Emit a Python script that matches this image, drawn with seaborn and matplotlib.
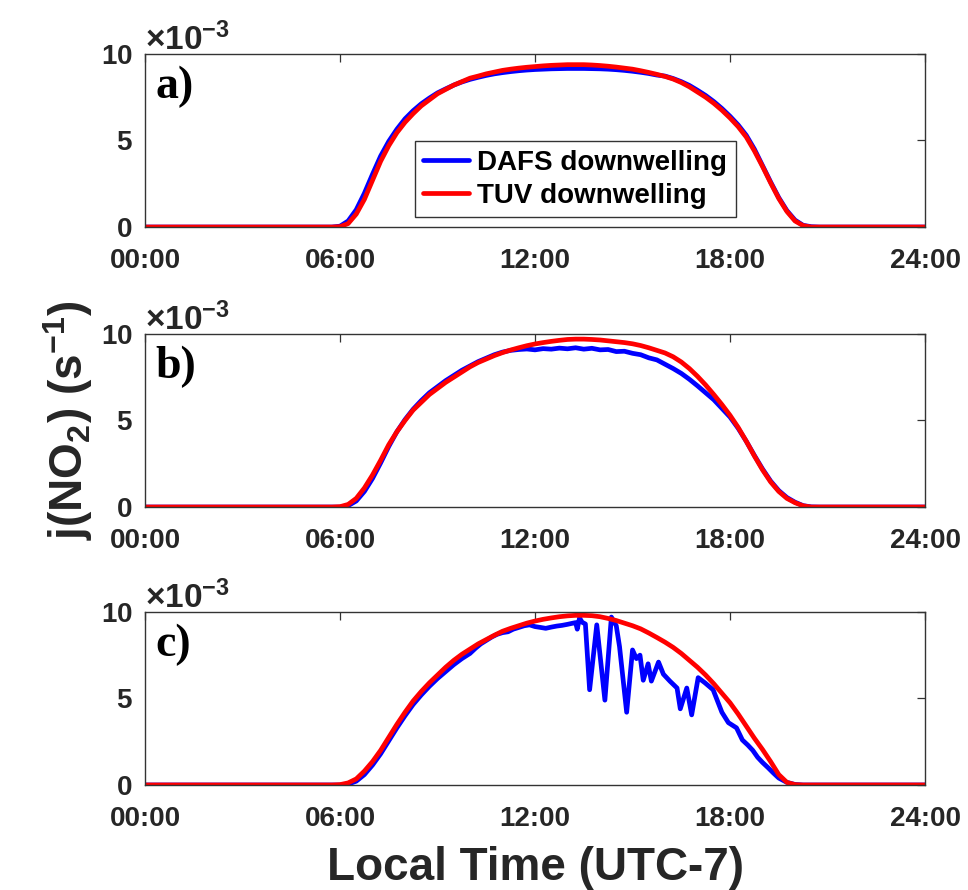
import numpy as np
import pandas as pd
import matplotlib
matplotlib.use("Agg")
import matplotlib.pyplot as plt
import seaborn as sns
from matplotlib.ticker import ScalarFormatter, FixedLocator, FixedFormatter

# ---------------------------------------------------------------------------
# Photolysis frequency j(NO2), in units of 1e-3 s^-1, versus local time (h).
# Smooth series share a 15-minute grid from 05:30 to 21:00 plus midnight ends.
# ---------------------------------------------------------------------------
grid_hours = [0.0] + list(np.arange(5.5, 21.01, 0.25)) + [24.0]

tuv_a = [0.0,
         0.0, 0.0,
         0.02, 0.2, 0.75, 1.6,
         2.7, 3.8, 4.7, 5.45,
         6.05, 6.55, 7.0, 7.35,
         7.7, 7.95, 8.2, 8.4,
         8.6, 8.72, 8.85, 8.95,
         9.05, 9.12, 9.18, 9.23,
         9.27, 9.31, 9.34, 9.36,
         9.38, 9.38, 9.38, 9.36,
         9.33, 9.29, 9.24, 9.18,
         9.12, 9.03, 8.93, 8.82,
         8.7, 8.55, 8.35, 8.1,
         7.8, 7.5, 7.15, 6.75,
         6.3, 5.8, 5.2, 4.4,
         3.5, 2.55, 1.65, 0.9,
         0.35, 0.08, 0.0, 0.0,
         0.0,
         0.0]

dafs_a = [0.0,
          0.0, 0.0,
          0.05, 0.35, 1.0, 1.95,
          3.05, 4.1, 4.95, 5.65,
          6.25, 6.72, 7.12, 7.45,
          7.75, 7.98, 8.2, 8.38,
          8.53, 8.65, 8.76, 8.85,
          8.92, 8.98, 9.03, 9.07,
          9.1, 9.12, 9.14, 9.15,
          9.16, 9.16, 9.16, 9.15,
          9.14, 9.12, 9.09, 9.05,
          9.0, 8.94, 8.87, 8.78,
          8.72, 8.58, 8.4, 8.18,
          7.9, 7.6, 7.25, 6.85,
          6.4, 5.9, 5.3, 4.5,
          3.55, 2.6, 1.7, 0.95,
          0.4, 0.1, 0.02, 0.0,
          0.0,
          0.0]

tuv_b = [0.0,
         0.0, 0.0,
         0.02, 0.15, 0.5, 1.1,
         1.85, 2.7, 3.6, 4.35,
         5.0, 5.6, 6.05, 6.5,
         6.85, 7.2, 7.5, 7.8,
         8.1, 8.35, 8.55, 8.75,
         8.92, 9.07, 9.2, 9.32,
         9.42, 9.5, 9.57, 9.63,
         9.68, 9.7, 9.7, 9.68,
         9.65, 9.6, 9.55, 9.5,
         9.43, 9.33, 9.2, 9.05,
         8.9, 8.68, 8.38, 8.0,
         7.55, 7.05, 6.5, 5.92,
         5.3, 4.6, 3.8, 2.95,
         2.15, 1.45, 0.9, 0.5,
         0.25, 0.07, 0.0, 0.0,
         0.0,
         0.0]

dafs_b = [0.0,
          0.0, 0.0,
          0.0, 0.08, 0.35, 0.9,
          1.65, 2.55, 3.5, 4.35,
          5.05, 5.65, 6.15, 6.6,
          6.95, 7.3, 7.6, 7.9,
          8.15, 8.4, 8.6, 8.8,
          8.95, 9.05, 9.1, 9.13,
          9.08, 9.15, 9.12, 9.18,
          9.14, 9.2, 9.12, 9.17,
          9.08, 9.1, 8.98, 9.0,
          8.88, 8.8, 8.62, 8.5,
          8.25, 8.0, 7.72, 7.38,
          7.0, 6.6, 6.2, 5.7,
          5.2, 4.55, 3.8, 2.98,
          2.2, 1.5, 0.95, 0.55,
          0.28, 0.08, 0.01, 0.0,
          0.0,
          0.0]

tuv_c = [0.0,
         0.0, 0.0,
         0.02, 0.12, 0.35, 0.8,
         1.35, 2.0, 2.75, 3.5,
         4.2, 4.85, 5.4, 5.9,
         6.35, 6.8, 7.2, 7.55,
         7.85, 8.15, 8.4, 8.65,
         8.88, 9.05, 9.2, 9.35,
         9.47, 9.57, 9.65, 9.72,
         9.77, 9.8, 9.8, 9.78,
         9.72, 9.62, 9.5, 9.35,
         9.2, 9.02, 8.78, 8.52,
         8.25, 7.95, 7.6, 7.2,
         6.8, 6.35, 5.85, 5.3,
         4.75, 4.1, 3.4, 2.7,
         2.05, 1.35, 0.6, 0.15,
         0.02, 0.0, 0.0, 0.0,
         0.0,
         0.0]

# Cloud-affected measured series on its own (irregular) time stamps
dafs_c_hours = [0.0, 5.5, 6.0, 6.25, 6.5, 6.75, 7.0, 7.25, 7.5, 7.75,
                8.0, 8.25, 8.5, 8.75, 9.0, 9.25, 9.5, 9.75, 10.0, 10.17,
                10.33, 10.5, 10.67, 10.83, 11.0, 11.17, 11.33, 11.5, 11.67, 11.83,
                12.0, 12.17, 12.33, 12.5, 12.67, 12.83, 13.0, 13.17, 13.25, 13.3,
                13.37, 13.45, 13.55, 13.68, 13.9, 14.15, 14.35, 14.5, 14.6, 14.82,
                15.0, 15.12, 15.23, 15.33, 15.48, 15.58, 15.8, 15.95, 16.15, 16.37,
                16.47, 16.67, 16.82, 17.02, 17.23, 17.48, 17.75, 17.95, 18.2, 18.38,
                18.55, 18.7, 18.85, 19.0, 19.17, 19.33, 19.5, 19.75, 20.0, 20.25,
                24.0]
dafs_c = [0.0, 0.0, 0.0, 0.05, 0.22, 0.6, 1.15, 1.8, 2.55, 3.3,
          4.0, 4.65, 5.2, 5.7, 6.15, 6.55, 6.95, 7.3, 7.6, 7.9,
          8.15, 8.35, 8.55, 8.7, 8.8, 8.85, 9.0, 9.1, 9.2, 9.25,
          9.15, 9.1, 9.05, 9.12, 9.18, 9.22, 9.28, 9.35, 9.38, 9.0,
          9.65, 9.4, 9.3, 5.5, 9.25, 4.9, 9.7, 9.2, 8.0, 4.2,
          7.8, 7.3, 7.5, 6.05, 7.0, 6.0, 7.1, 6.4, 6.0, 5.6,
          4.4, 5.6, 4.05, 6.2, 5.9, 5.5, 4.2, 3.6, 3.3, 2.6,
          2.3, 2.0, 1.6, 1.3, 1.0, 0.7, 0.4, 0.15, 0.03, 0.0,
          0.0]

panel_labels = ["a)", "b)", "c)"]
series_names = ["DAFS downwelling", "TUV downwelling"]
x_ticks = [0, 6, 12, 18, 24]
x_tick_labels = ["00:00", "06:00", "12:00", "18:00", "24:00"]
y_ticks = [0.0, 0.005, 0.010]

panels = [
    ((grid_hours, dafs_a), (grid_hours, tuv_a)),
    ((grid_hours, dafs_b), (grid_hours, tuv_b)),
    ((dafs_c_hours, dafs_c), (grid_hours, tuv_c)),
]

# ---------------------------------------------------------------------------
sns.set_theme(style="white")
INK = "#262626"
plt.rcParams.update({
    "font.family": ["Liberation Sans", "DejaVu Sans"],
    "font.weight": "bold",
    "mathtext.fontset": "custom",
    "mathtext.rm": "Liberation Sans:bold",
    "mathtext.it": "Liberation Sans:italic:bold",
    "mathtext.bf": "Liberation Sans:bold",
    "mathtext.default": "rm",
    "text.color": INK,
    "axes.labelcolor": INK,
    "xtick.color": INK,
    "ytick.color": INK,
    "axes.edgecolor": "#333333",
    "axes.linewidth": 1.0,
})


class MilliFormatter(ScalarFormatter):
    """Scalar formatter with the exponent pinned to 10^-3."""
    def _set_order_of_magnitude(self):
        self.orderOfMagnitude = -3


palette = {series_names[0]: "#0000FF", series_names[1]: "#FF0000"}

fig = plt.figure(figsize=(9.68, 8.9), dpi=100)
left, width, height = 0.1498, 0.8058, 0.1945
bottoms = [0.7449, 0.4303, 0.1180]

axes = []
for i, ((hx_m, v_m), (hx_t, v_t)) in enumerate(panels):
    ax = fig.add_axes([left, bottoms[i], width, height])
    frame = pd.concat([
        pd.DataFrame({"hour": hx_m, "j": np.array(v_m) * 1e-3,
                      "source": series_names[0]}),
        pd.DataFrame({"hour": hx_t, "j": np.array(v_t) * 1e-3,
                      "source": series_names[1]}),
    ], ignore_index=True)
    sns.lineplot(data=frame, x="hour", y="j", hue="source",
                 hue_order=series_names, palette=palette,
                 estimator=None, sort=False, linewidth=3.4,
                 legend=(i == 0), ax=ax)

    ax.set_xlim(0, 24)
    ax.set_ylim(0, 0.010)
    ax.xaxis.set_major_locator(FixedLocator(x_ticks))
    ax.xaxis.set_major_formatter(FixedFormatter(x_tick_labels))
    ax.yaxis.set_major_locator(FixedLocator(y_ticks))
    ax.yaxis.set_major_formatter(MilliFormatter(useMathText=True))

    ax.tick_params(axis="both", which="major", direction="in",
                   top=True, right=True, length=6, width=0.9,
                   labelsize=20, color="#333333")
    ax.tick_params(axis="x", pad=15)
    ax.tick_params(axis="y", pad=9)
    for lbl in ax.get_xticklabels() + ax.get_yticklabels():
        lbl.set_fontweight("bold")
    off = ax.yaxis.get_offset_text()
    off.set_fontsize(24)
    off.set_fontweight("bold")
    for sp in ax.spines.values():
        sp.set_visible(True)
        sp.set_color("#333333")
        sp.set_linewidth(1.0)

    ax.set_xlabel("")
    ax.set_ylabel("")
    ax.text(0.013, 0.745, panel_labels[i], transform=ax.transAxes,
            fontfamily="Liberation Serif", fontweight="bold",
            fontsize=33, color="black", va="baseline", ha="left")
    axes.append(ax)

# legend in the first panel
leg = axes[0].legend(loc="lower left", bbox_to_anchor=(0.346, 0.058),
                     borderaxespad=0, frameon=True, fancybox=False,
                     framealpha=1, edgecolor="#333333",
                     prop={"size": 20, "weight": "bold"},
                     handlelength=1.65, handletextpad=0.3,
                     borderpad=0.3, labelspacing=0.25)
leg.get_frame().set_linewidth(1.0)
for t in leg.get_texts():
    t.set_color("black")
for ln in leg.get_lines():
    ln.set_linewidth(3.4)

axes[1].set_ylabel(r"j(NO$_2$) (s$^{-1}$)", fontsize=33,
                   fontweight="bold", labelpad=4)
axes[2].set_xlabel("Local Time (UTC-7)", fontsize=33,
                   fontweight="bold", labelpad=10)

fig.savefig("out.png", dpi=100, facecolor="white")
